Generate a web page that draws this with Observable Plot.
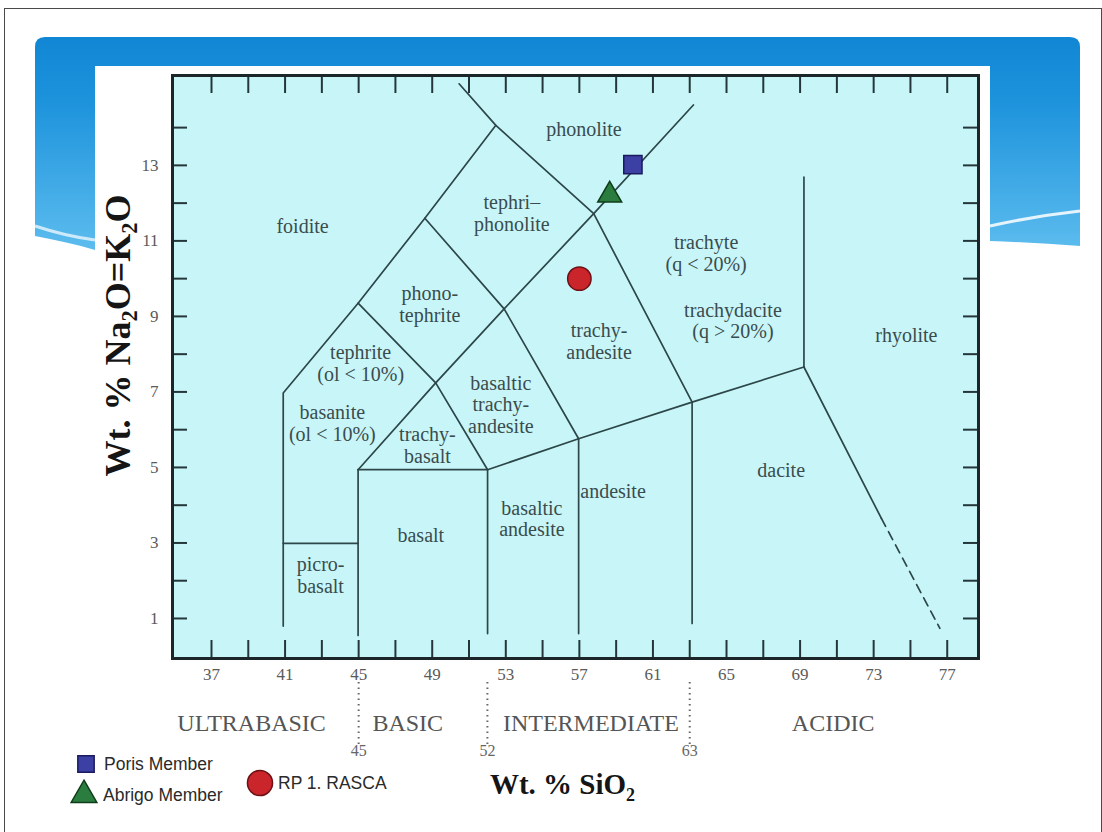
<!DOCTYPE html>
<html><head><meta charset="utf-8">
<script src="https://cdn.jsdelivr.net/npm/d3@7"></script>
<script src="https://cdn.jsdelivr.net/npm/@observablehq/plot@0.6"></script>
<style>
html,body{margin:0;padding:0;background:#fff;}
#page{position:relative;width:1102px;height:832px;overflow:hidden;background:#fff;}
#border{position:absolute;left:4px;top:8px;width:1098px;height:830px;border:1px solid #4a4a4a;box-sizing:border-box;}
#bg,#chart,#legend{position:absolute;left:0;top:0;}
.lg{position:absolute;font-family:"Liberation Sans",Arial,sans-serif;font-size:17.5px;color:#2a2a2a;line-height:20px;white-space:nowrap;}
</style></head>
<body>
<div id="page">
  <div id="border"></div>
  <svg id="bg" width="1102" height="832">
    <defs>
      <linearGradient id="gb" x1="0" y1="0" x2="0" y2="1">
        <stop offset="0" stop-color="#1186d4"/>
        <stop offset="0.3" stop-color="#1d93dc"/>
        <stop offset="1" stop-color="#5cbcee"/>
      </linearGradient>
    </defs>
    <path d="M35,47 Q35,37 45,37 L1070,37 Q1080,37 1080,47 L1080,246 C1050,244 1020,242 990,241 L990,66 L95,66 L95,250 C75,244 55,240 35,236 Z" fill="url(#gb)"/>
    <path d="M990,226 Q1035,216 1080,211" fill="none" stroke="#ffffff" stroke-width="3" opacity="0.85"/>
    <path d="M35,226 Q65,236 95,240" fill="none" stroke="#ffffff" stroke-width="3" opacity="0.7"/>
    <rect x="95" y="66" width="895" height="766" fill="#ffffff"/>
  </svg>
  <div id="chart"></div>
  <div id="legend"></div>
</div>
<script>
// ---- data ----
const xTicks = [37,39,41,43,45,47,49,51,53,55,57,59,61,63,65,67,69,71,73,75,77];
const xTickLabels = [37,41,45,49,53,57,61,65,69,73,77];
const yTicks = [1,2,3,4,5,6,7,8,9,10,11,12,13,14];
const yTickLabels = [1,3,5,7,9,11,13];

// field boundaries (SiO2, Na2O+K2O)
const boundaryIds = ["foidite","phonolite","picro","bas45","lower","v52","v57","v63","diagNE","tephrite","phonotephrite","rhyoV","rhyoDac"];
const boundaryX = [
  [40.9, 40.9, 44.97, 48.6, 52.46],
  [50.46, 52.46, 57.78, 63.13],
  [40.9, 44.97],
  [44.97, 44.97],
  [44.97, 52.01, 56.96, 63.13, 69.21],
  [52.01, 52.01],
  [56.96, 56.96],
  [63.13, 63.13],
  [44.97, 49.19, 52.91, 57.78, 63.2],
  [44.97, 49.19, 52.01],
  [48.6, 52.91, 56.96],
  [69.21, 69.21],
  [69.21, 73.42]
];
const boundaryY = [
  [0.8, 6.97, 9.35, 11.6, 14.06],
  [15.16, 14.06, 11.72, 6.73],
  [2.99, 2.99],
  [0.55, 4.94],
  [4.94, 4.94, 5.76, 6.73, 7.66],
  [0.6, 4.94],
  [0.6, 5.76],
  [0.87, 6.73],
  [4.94, 7.24, 9.2, 11.72, 14.6],
  [9.35, 7.24, 4.94],
  [11.6, 9.2, 5.76],
  [12.69, 7.66],
  [7.66, 3.65]
];
const dashedX = [73.42, 76.6];
const dashedY = [3.65, 0.74];

// field names
const fieldNames = ["foidite","phonolite","tephri\u2013\nphonolite","phono-\ntephrite","tephrite\n(ol < 10%)","basanite\n(ol < 10%)","trachy-\nbasalt","basaltic\ntrachy-\nandesite","trachy-\nandesite","trachyte\n(q < 20%)","trachydacite\n(q > 20%)","rhyolite","dacite","andesite","basaltic\nandesite","basalt","picro-\nbasalt"];
const fieldX = [41.95, 57.25, 53.33, 48.87, 45.11, 43.57, 48.74, 52.73, 58.07, 63.89, 65.35, 74.78, 67.97, 58.83, 54.42, 48.38, 42.93];
const fieldY = [11.39, 13.96, 11.73, 9.32, 7.76, 6.17, 5.59, 6.67, 8.34, 10.68, 8.88, 8.5, 4.93, 4.37, 3.65, 3.2, 2.15];

// samples
const sampleNames = ["Poris Member","Abrigo Member","RP 1. RASCA"];
const sampleSiO2 = [59.91, 58.65, 57.0];
const sampleAlk = [13.02, 12.21, 10.0];
const sampleSymbols = ["square","triangle","circle"];
const sampleFill = ["#3c3fa3","#2a7d3f","#c9252b"];
const sampleStroke = ["#1a1a5e","#103d1a","#6d1114"];
const sampleR = [10.3, 8.9, 11.7];

// silica classes
const classNames = ["ULTRABASIC","BASIC","INTERMEDIATE","ACIDIC"];
const classX = [39.18, 47.67, 57.63, 70.8];
const classBounds = [45, 52, 63];

const xTitle = "Wt. % SiO\u2082";
const yTitle = "Wt. % Na\u2082O=K\u2082O";

// ---- build tables ----
const boundaryPts = boundaryIds.flatMap((id, i) => boundaryX[i].map((x, j) => ({id, x, y: boundaryY[i][j]})));
const dashedPts = dashedX.map((x, j) => ({id: "dash", x, y: dashedY[j]}));
const fields = fieldNames.map((label, i) => ({label, x: fieldX[i], y: fieldY[i]}));
const samples = sampleNames.map((name, i) => ({name, x: sampleSiO2[i], y: sampleAlk[i], symbol: sampleSymbols[i], fill: sampleFill[i], stroke: sampleStroke[i], r: sampleR[i]}));
const classes = classNames.map((name, i) => ({name, x: classX[i]}));

const W = 1102, H = 832, mL = 172, mR = 124, mT = 75, mB = 174;
const fw = W - mL - mR, fh = H - mT - mB;
const lineColor = "#2c4649";
const tickColor = "#24363a";

const svg = Plot.plot({
  width: W, height: H,
  marginLeft: mL, marginRight: mR, marginTop: mT, marginBottom: mB,
  x: {domain: [34.88, 78.7]},
  y: {domain: [-0.06, 15.38]},
  r: {type: "identity"},
  style: {fontFamily: '"Liberation Serif","Times New Roman",serif', background: "transparent", overflow: "visible"},
  marks: [
    Plot.frame({fill: "#c8f6f8", stroke: null}),
    Plot.line(boundaryPts, {x: "x", y: "y", z: "id", stroke: lineColor, strokeWidth: 1.7}),
    Plot.line(dashedPts, {x: "x", y: "y", stroke: lineColor, strokeWidth: 1.7, strokeDasharray: "9,6"}),
    Plot.tickX(xTicks, {x: d => d, insetTop: fh - 18, stroke: tickColor, strokeWidth: 2}),
    Plot.tickX(xTicks, {x: d => d, insetBottom: fh - 18, stroke: tickColor, strokeWidth: 2}),
    Plot.tickY(yTicks, {y: d => d, insetRight: fw - 15, stroke: tickColor, strokeWidth: 2}),
    Plot.tickY(yTicks, {y: d => d, insetLeft: fw - 15, stroke: tickColor, strokeWidth: 2}),
    Plot.frame({stroke: "#1c2628", strokeWidth: 3}),
    Plot.axisX({ticks: xTickLabels, tickSize: 0, tickPadding: 9, fontSize: 17, color: "#5a5a5a", label: null}),
    Plot.axisY({ticks: yTickLabels, tickSize: 0, tickPadding: 14, fontSize: 17, color: "#5a5a5a", label: null}),
    Plot.text(fields, {x: "x", y: "y", text: "label", fontSize: 20, lineHeight: 1.07, fill: "#3a4c4e"}),
    Plot.dot(samples, {x: "x", y: "y", symbol: "symbol", r: "r", fill: "fill", stroke: "stroke", strokeWidth: 1.5}),
    Plot.ruleX(classBounds, {x: d => d, insetTop: fh + 24, insetBottom: -87, stroke: "#666", strokeWidth: 2, strokeDasharray: "1.5,4"}),
    Plot.text(classBounds, {x: d => d, text: d => String(d), frameAnchor: "bottom", dy: 97, fontSize: 16, fill: "#666"}),
    Plot.text(classes, {x: "x", text: "name", frameAnchor: "bottom", dy: 72, fontSize: 24, fill: "#555"}),
    Plot.text([xTitle], {frameAnchor: "bottom", dx: -13, dy: 135, fontSize: 29, fontWeight: "bold", fill: "#151515"}),
    Plot.text([yTitle], {frameAnchor: "left", textAnchor: "middle", rotate: -90, dx: -54, dy: -31.5, fontSize: 36, fontWeight: "bold", fill: "#151515"})
  ]
});

// subscripts
svg.querySelectorAll("text").forEach(t => {
  if (t.children.length === 0 && t.textContent.includes("\u2082")) {
    const parts = t.textContent.split(/(\u2082)/);
    t.textContent = "";
    let shifted = false;
    for (const p of parts) {
      if (!p) continue;
      const s = document.createElementNS("http://www.w3.org/2000/svg", "tspan");
      if (p === "\u2082") { s.textContent = "2"; s.setAttribute("font-size", "0.62em"); s.setAttribute("dy", "7"); shifted = true; }
      else { s.textContent = p; if (shifted) { s.setAttribute("dy", "-7"); shifted = false; } }
      t.appendChild(s);
    }
  }
});
document.getElementById("chart").appendChild(svg);

// legend (HTML)
const legendPos = [[86, 764, 104], [84, 795, 103], [260, 783, 278]];
const lg = document.getElementById("legend");
samples.forEach((s, i) => {
  const [cx, cy, tx] = legendPos[i];
  const sym = d3.select(lg).append("svg").attr("width", 40).attr("height", 40)
    .style("position", "absolute").style("left", (cx - 20) + "px").style("top", (cy - 20) + "px");
  const shape = {square: d3.symbolSquare, triangle: d3.symbolTriangle, circle: d3.symbolCircle}[s.symbol];
  sym.append("path").attr("transform", "translate(20,20)")
    .attr("d", d3.symbol(shape, Math.PI * s.r * s.r * (s.symbol === "square" ? 0.8 : 1.15))())
    .attr("fill", s.fill).attr("stroke", s.stroke).attr("stroke-width", 1.5);
  d3.select(lg).append("div").attr("class", "lg").style("left", tx + "px").style("top", (cy - 10) + "px").text(s.name);
});
</script>
</body></html>
